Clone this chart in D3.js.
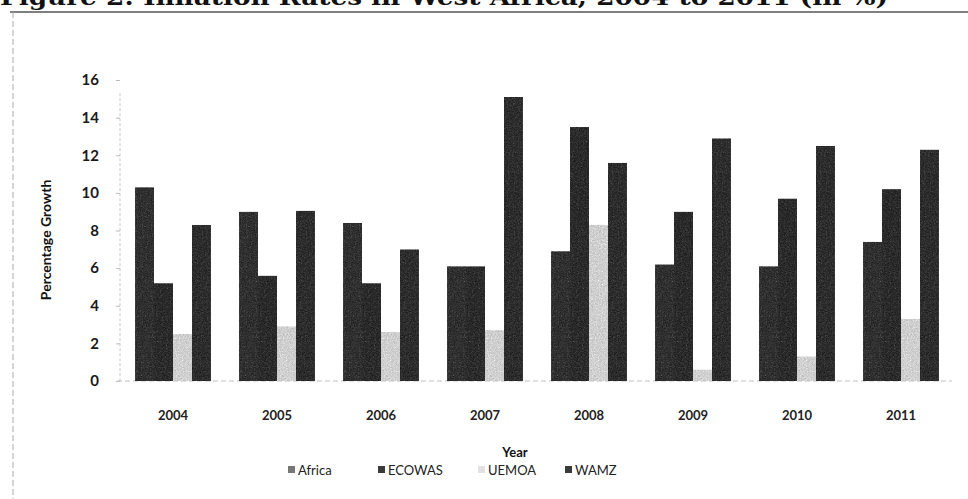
<!DOCTYPE html>
<html>
<head>
<meta charset="utf-8">
<script src="https://cdn.jsdelivr.net/npm/d3@7"></script>
<style>
  html, body { margin: 0; padding: 0; background: #fff; }
  svg { display: block; }
</style>
</head>
<body>
<svg id="chart" width="968" height="499"></svg>
<script>
// Inflation rates (%) by region, 2004–2011
const years   = ["2004", "2005", "2006", "2007", "2008", "2009", "2010", "2011"];
const series  = ["Africa", "ECOWAS", "UEMOA", "WAMZ"];
const africa  = [10.3, 9.0, 8.4, 6.1, 6.9, 6.2, 6.1, 7.4];
const ecowas  = [5.2, 5.6, 5.2, 6.1, 13.5, 9.0, 9.7, 10.2];
const uemoa   = [2.5, 2.9, 2.6, 2.7, 8.3, 0.6, 1.3, 3.3];
const wamz    = [8.3, 9.05, 7.0, 15.1, 11.6, 12.9, 12.5, 12.3];
const yTicks  = [0, 2, 4, 6, 8, 10, 12, 14, 16];
const titleText = "Figure 2: Inflation Rates in West Africa, 2004 to 2011 (in %)";

const valuesBySeries = { Africa: africa, ECOWAS: ecowas, UEMOA: uemoa, WAMZ: wamz };
const rows = years.map((yr, i) => ({
  year: yr,
  values: series.map(s => ({ key: s, value: valuesBySeries[s][i] }))
}));

const fills = { Africa: "#4a4a4a", ECOWAS: "#454545", UEMOA: "#eeeeee", WAMZ: "#474747" };
const sansFont = "Lato, 'Open Sans', 'Liberation Sans', sans-serif";

const svg = d3.select("#chart");

// grainy print texture for the bars
const defs = svg.append("defs");
function addGrain(id, freq, seed, k3, k4) {
  const f = defs.append("filter").attr("id", id)
    .attr("x", 0).attr("y", 0).attr("width", 1).attr("height", 1)
    .attr("color-interpolation-filters", "sRGB");
  f.append("feTurbulence").attr("type", "fractalNoise")
    .attr("baseFrequency", freq).attr("numOctaves", 2).attr("seed", seed).attr("result", "noise");
  f.append("feColorMatrix").attr("in", "noise").attr("type", "saturate")
    .attr("values", 0).attr("result", "gray");
  f.append("feComposite").attr("in", "SourceGraphic").attr("in2", "gray")
    .attr("operator", "arithmetic").attr("k1", 0).attr("k2", 1).attr("k3", k3).attr("k4", k4)
    .attr("result", "mix");
  f.append("feComposite").attr("in", "mix").attr("in2", "SourceGraphic").attr("operator", "in");
}
addGrain("grain", 0.8, 3, 0.55, -0.26);
addGrain("speck", 0.7, 7, 0.6, -0.3);

// title (runs off the top edge) and frame lines
svg.append("text")
  .attr("x", 0).attr("y", 5)
  .attr("textLength", 888).attr("lengthAdjust", "spacingAndGlyphs")
  .style("font-family", "'DejaVu Serif', 'Liberation Serif', serif")
  .style("font-weight", "bold").style("font-size", "22px").style("fill", "#111")
  .text(titleText);

svg.append("line")
  .attr("x1", 10).attr("x2", 968).attr("y1", 12).attr("y2", 12)
  .style("stroke", "#555").style("stroke-width", 1.6);
svg.append("line")
  .attr("x1", 13).attr("x2", 13).attr("y1", 12).attr("y2", 499)
  .style("stroke", "#aaa").style("stroke-width", 1).style("stroke-dasharray", "6 3");

// scales
const x0 = d3.scaleBand().domain(years).range([121, 953]).paddingInner(0.27).paddingOuter(0.135);
const x1 = d3.scaleBand().domain(series).range([0, x0.bandwidth()]);
const y  = d3.scaleLinear().domain([0, 16]).range([381, 80]);

// y axis
const yAxis = svg.append("g").attr("transform", "translate(120,0)")
  .call(d3.axisLeft(y).tickValues(yTicks).tickSize(4).tickPadding(17));
yAxis.select(".domain").attr("d", `M0,${y(15.3)}V${y(0)}`)
  .style("stroke", "#c8c8c8").style("stroke-dasharray", "3 2");
yAxis.selectAll(".tick line").style("stroke", "#bbb");
yAxis.selectAll(".tick text")
  .style("font-family", sansFont)
  .style("font-weight", "bold").style("font-size", "15px").style("fill", "#1a1a1a");

svg.append("text")
  .attr("transform", `translate(51,${y(7.5)}) rotate(-90)`)
  .attr("text-anchor", "middle")
  .style("font-family", sansFont)
  .style("font-weight", "bold").style("font-size", "14px").style("fill", "#111")
  .text("Percentage Growth");

// x axis
const xAxis = svg.append("g").attr("transform", `translate(0,${y(0)})`)
  .call(d3.axisBottom(x0).tickSize(0).tickPadding(30));
xAxis.select(".domain").attr("d", `M117,0H952`)
  .style("stroke", "#c0c0c0").style("stroke-dasharray", "5 3");
xAxis.selectAll(".tick text")
  .style("font-family", sansFont)
  .style("font-weight", "bold").style("font-size", "13px").style("fill", "#222");

svg.append("text")
  .attr("x", 515).attr("y", 457).attr("text-anchor", "middle")
  .style("font-family", sansFont)
  .style("font-weight", "bold").style("font-size", "13px").style("fill", "#111")
  .text("Year");

// bars
const groups = svg.append("g").selectAll("g")
  .data(rows).join("g")
  .attr("transform", d => `translate(${x0(d.year)},0)`);

groups.selectAll("rect")
  .data(d => d.values).join("rect")
  .attr("x", d => x1(d.key))
  .attr("y", d => y(d.value))
  .attr("width", x1.bandwidth())
  .attr("height", d => y(0) - y(d.value))
  .style("fill", d => fills[d.key])
  .attr("filter", d => d.key === "UEMOA" ? "url(#speck)" : "url(#grain)");

// legend
const legendItems = [
  { key: "Africa", x: 288 },
  { key: "ECOWAS", x: 378 },
  { key: "UEMOA", x: 478 },
  { key: "WAMZ", x: 565 }
];
const legend = svg.append("g").selectAll("g")
  .data(legendItems).join("g")
  .attr("transform", d => `translate(${d.x},475)`);
legend.append("rect")
  .attr("x", 0).attr("y", -9).attr("width", 7).attr("height", 7)
  .style("fill", d => d.key === "Africa" ? "#777" : (d.key === "UEMOA" ? "#e2e2e2" : "#3a3a3a"));
legend.append("text")
  .attr("x", 10).attr("y", 0)
  .style("font-family", sansFont)
  .style("font-size", "13px").style("fill", "#222")
  .text(d => d.key);
</script>
</body>
</html>
